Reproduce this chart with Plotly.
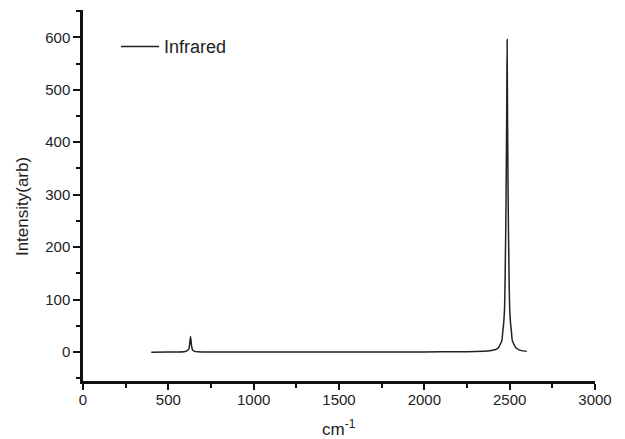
import plotly.graph_objects as go

# Wavenumber (cm^-1) and intensity values
wavenumber = [400, 500, 560, 590, 605, 615, 620, 624, 627, 630, 633, 636, 640, 645, 655, 670, 700,
              800, 1000, 1200, 1400, 1600, 1800, 2000, 2200, 2300, 2370, 2400, 2420, 2435, 2445,
              2455, 2460, 2465, 2470, 2473, 2475, 2477, 2479, 2481, 2483, 2485, 2487, 2489, 2491,
              2493, 2495, 2497, 2500, 2505, 2510, 2515, 2525, 2535, 2550, 2570, 2600]
intensity = [0.0, 0.1, 0.3, 0.8, 1.8, 4.0, 6.0, 12.3, 22.0, 30.0, 22.0, 12.3, 6.0, 3.0, 1.5, 0.8, 0.4,
             0.2, 0.1, 0.1, 0.1, 0.2, 0.3, 0.4, 0.8, 1.2, 2.0, 3.5, 5.2, 8.9, 15.0,
             23.0, 40.0, 55.0, 82.0, 132.0, 183.0, 233.0, 298.0, 381.0, 477.0, 596.0, 477.0, 381.0, 298.0,
             233.0, 183.0, 132.0, 82.0, 55.0, 40.0, 23.0, 15.0, 8.9, 5.2, 2.9, 1.5]

x_ticks = [0, 500, 1000, 1500, 2000, 2500, 3000]
y_ticks = [0, 100, 200, 300, 400, 500, 600]

fig = go.Figure()
fig.add_trace(go.Scatter(
    x=wavenumber, y=intensity, mode="lines", name="Infrared",
    line=dict(color="#222222", width=1.5, shape="spline", smoothing=0.3),
))

font_family = "Liberation Sans, Arial, sans-serif"
fig.update_layout(
    width=625, height=439,
    margin=dict(l=83, r=30, t=10, b=58),
    paper_bgcolor="white", plot_bgcolor="white",
    font=dict(family=font_family, size=15, color="#222222"),
    showlegend=True,
    legend=dict(x=0.0645, y=0.951, xanchor="left", yanchor="top", itemwidth=38,
                bgcolor="rgba(0,0,0,0)", font=dict(size=18, color="#222222")),
    annotations=[
        dict(text="cm<sup>-1</sup>", xref="paper", yref="paper", x=0.5, y=-0.127,
             xanchor="center", yanchor="middle", showarrow=False,
             font=dict(size=17, color="#222222")),
        dict(text="Intensity(arb)", xref="paper", yref="paper", x=-0.119, y=0.469,
             xanchor="center", yanchor="middle", showarrow=False, textangle=-90,
             font=dict(size=17, color="#222222")),
    ],
)
fig.update_xaxes(
    range=[0, 3000], tickvals=x_ticks, ticktext=[str(v) for v in x_ticks],
    showline=True, linecolor="#111111", linewidth=2.5, showgrid=False, zeroline=False,
    ticks="outside", ticklen=6, tickwidth=2, tickcolor="#111111", ticklabelstandoff=-3,
    minor=dict(dtick=250, ticks="outside", ticklen=4, tickwidth=2, tickcolor="#111111", showgrid=False),
    tickfont=dict(size=15, color="#222222"),
)
fig.update_yaxes(
    range=[-55, 652], tickvals=y_ticks, ticktext=[str(v) for v in y_ticks],
    showline=True, linecolor="#111111", linewidth=2.5, showgrid=False, zeroline=False,
    ticks="outside", ticklen=7, tickwidth=2, tickcolor="#111111",
    minor=dict(dtick=50, tick0=50, ticks="outside", ticklen=4, tickwidth=2, tickcolor="#111111", showgrid=False),
    tickfont=dict(size=15, color="#222222"),
)

fig.write_html("out.html")
